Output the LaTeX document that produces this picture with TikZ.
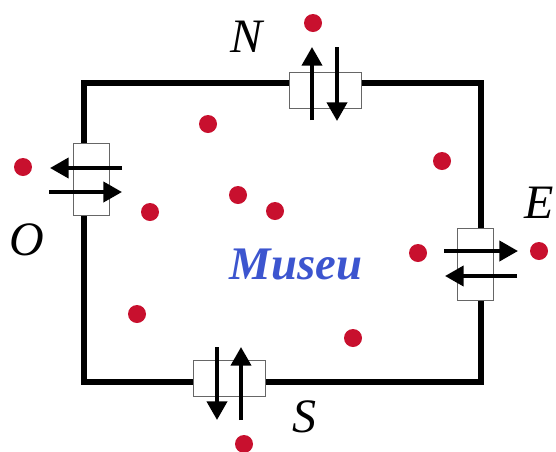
\documentclass[tikz,border=0pt]{standalone}
\usepackage{fontspec}
\setmainfont{Liberation Serif}
\usetikzlibrary{arrows.meta}
\definecolor{cDot}{HTML}{C8102E}
\definecolor{cName}{HTML}{3C55CF}
\definecolor{cDoor}{HTML}{666666}
\tikzset{
  >={Triangle[length=14pt,width=15pt]},
  swall/.style={line width=4.2pt,black,line join=miter},
  sdoor/.style={draw=cDoor,fill=white,line width=0.7pt,inner sep=0pt,outer sep=0pt},
  shor/.style={sdoor,minimum width=54pt,minimum height=27pt},
  sver/.style={sdoor,minimum width=27pt,minimum height=54pt},
  sdot/.style={circle,fill=cDot,inner sep=0pt,minimum size=13.5pt},
  sar/.style={->,line width=3pt,black},
  slab/.style={font=\fontsize{36}{36}\selectfont\itshape,inner sep=0pt},
}
\begin{document}
\begin{tikzpicture}[x=0.75pt,y=-0.75pt]
        \useasboundingbox (0,0) rectangle (556,451);
        \coordinate (nw) at (84,83);
        \coordinate (ne) at (481,83);
        \coordinate (se) at (481,382);
        \coordinate (sw) at (84,382);
        \draw[swall] (nw)--(ne)--(se)--(sw)--cycle;
        \node[shor] (doorN) at (325,90) {};
        \node[shor] (doorS) at (229,378) {};
        \node[sver] (doorO) at (91.5,179) {};
        \node[sver] (doorE) at (475,264) {};
        \coordinate (na) at (312,120);
        \coordinate (nb) at (312,47);
        \coordinate (nc) at (337,47);
        \coordinate (nd) at (337,121);
        \coordinate (sa) at (217,347);
        \coordinate (sb) at (217,420);
        \coordinate (sc) at (241,420);
        \coordinate (sd) at (241,347);
        \coordinate (oa) at (122,168);
        \coordinate (ob) at (50,168);
        \coordinate (oc) at (49,192);
        \coordinate (od) at (122,192);
        \coordinate (ea) at (444,251);
        \coordinate (eb) at (518,251);
        \coordinate (ec) at (517,276);
        \coordinate (ed) at (445,276);
        \draw[sar] (na)--(nb);
        \draw[sar] (nc)--(nd);
        \draw[sar] (sa)--(sb);
        \draw[sar] (sc)--(sd);
        \draw[sar] (oa)--(ob);
        \draw[sar] (oc)--(od);
        \draw[sar] (ea)--(eb);
        \draw[sar] (ec)--(ed);
        \node[sdot] (outN) at (313,23) {};
        \node[sdot] (outO) at (23,167) {};
        \node[sdot] (outE) at (539,251) {};
        \node[sdot] (outS) at (244,444) {};
        \node[sdot] (inA) at (208,124) {};
        \node[sdot] (inB) at (442,161) {};
        \node[sdot] (inC) at (238,195) {};
        \node[sdot] (inD) at (275,211) {};
        \node[sdot] (inE) at (150,212) {};
        \node[sdot] (inF) at (418,253) {};
        \node[sdot] (inG) at (137,314) {};
        \node[sdot] (inH) at (353,338) {};
        \node[slab] (labN) at (247,37) {N};
        \node[slab] (labO) at (27,240) {O};
        \node[slab] (labE) at (539,203) {E};
        \node[slab] (labS) at (304,417) {S};
        \node[slab,cName,font=\fontsize{35}{35}\selectfont\bfseries\itshape] (labM) at (296,264) {Museu};
      \end{tikzpicture}
\end{document}
